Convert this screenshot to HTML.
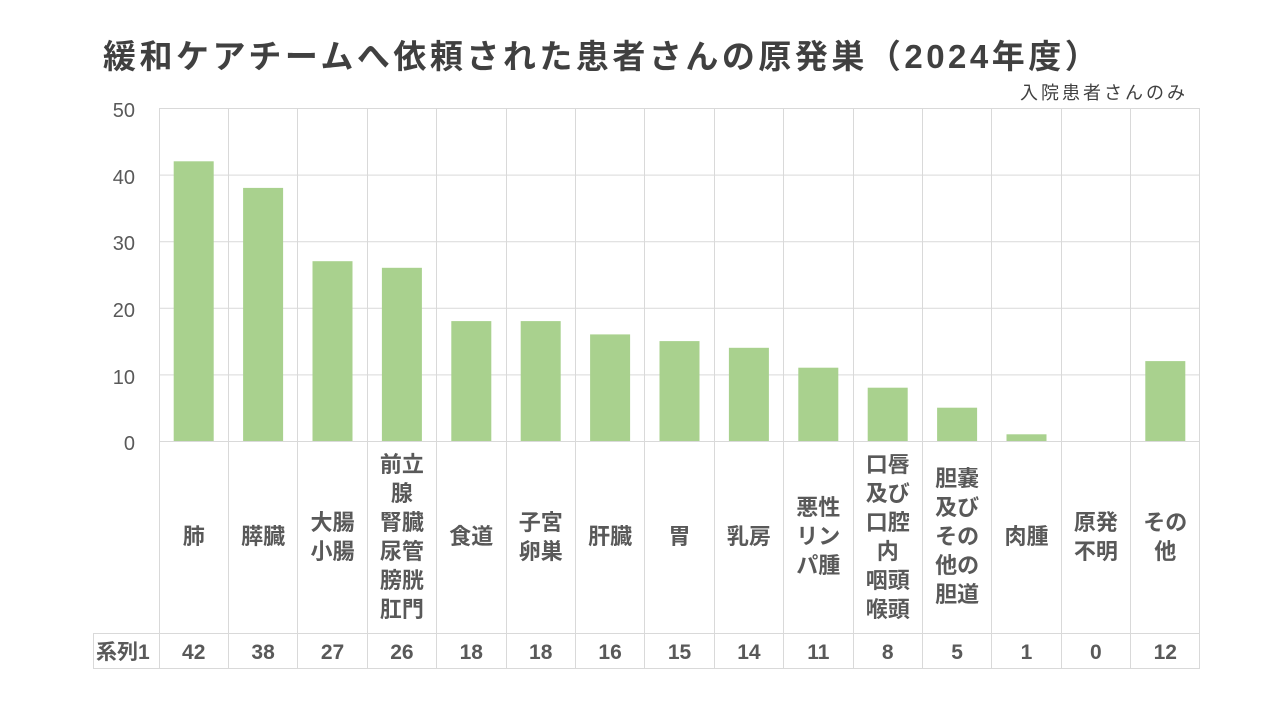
<!DOCTYPE html>
<html><head><meta charset="utf-8"><style>
body{margin:0;background:#fff;}
svg text{font-family:"Liberation Sans","Noto Sans CJK JP",sans-serif;}
</style></head><body>
<svg width="1280" height="720" xmlns="http://www.w3.org/2000/svg">
<rect width="1280" height="720" fill="#fff"/>
<text x="103" y="68" font-size="33" font-weight="bold" fill="#404040" letter-spacing="3.5">緩和ケアチームへ依頼された患者さんの原発巣（2024年度）</text>
<text x="1188" y="99" font-size="18" fill="#404040" text-anchor="end" letter-spacing="3">入院患者さんのみ</text>
<g stroke="#d9d9d9" stroke-width="1">
<line x1="159" y1="108.5" x2="1200" y2="108.5"/>
<line x1="159" y1="175.1" x2="1200" y2="175.1"/>
<line x1="159" y1="241.7" x2="1200" y2="241.7"/>
<line x1="159" y1="308.3" x2="1200" y2="308.3"/>
<line x1="159" y1="374.9" x2="1200" y2="374.9"/>
<line x1="159" y1="441.5" x2="1200" y2="441.5"/>
<line x1="93" y1="633.5" x2="1200" y2="633.5"/>
<line x1="93" y1="668.5" x2="1200" y2="668.5"/>
<line x1="93.5" y1="633" x2="93.5" y2="668"/>
<line x1="159.5" y1="108" x2="159.5" y2="668"/>
<line x1="228.5" y1="108" x2="228.5" y2="668"/>
<line x1="297.5" y1="108" x2="297.5" y2="668"/>
<line x1="367.5" y1="108" x2="367.5" y2="668"/>
<line x1="436.5" y1="108" x2="436.5" y2="668"/>
<line x1="506.5" y1="108" x2="506.5" y2="668"/>
<line x1="575.5" y1="108" x2="575.5" y2="668"/>
<line x1="644.5" y1="108" x2="644.5" y2="668"/>
<line x1="714.5" y1="108" x2="714.5" y2="668"/>
<line x1="783.5" y1="108" x2="783.5" y2="668"/>
<line x1="853.5" y1="108" x2="853.5" y2="668"/>
<line x1="922.5" y1="108" x2="922.5" y2="668"/>
<line x1="991.5" y1="108" x2="991.5" y2="668"/>
<line x1="1061.5" y1="108" x2="1061.5" y2="668"/>
<line x1="1130.5" y1="108" x2="1130.5" y2="668"/>
<line x1="1199.5" y1="108" x2="1199.5" y2="668"/>
</g>
<g font-size="20" fill="#595959" text-anchor="end">
<text x="135" y="117">50</text><text x="135" y="184">40</text><text x="135" y="250">30</text>
<text x="135" y="317">20</text><text x="135" y="384">10</text><text x="135" y="450">0</text>
</g>
<g fill="#a9d18e">
<rect x="173.7" y="161.3" width="40" height="279.7"/>
<rect x="243.1" y="187.9" width="40" height="253.1"/>
<rect x="312.5" y="261.2" width="40" height="179.8"/>
<rect x="381.9" y="267.8" width="40" height="173.2"/>
<rect x="451.3" y="321.1" width="40" height="119.9"/>
<rect x="520.7" y="321.1" width="40" height="119.9"/>
<rect x="590.1" y="334.4" width="40" height="106.6"/>
<rect x="659.5" y="341.1" width="40" height="99.9"/>
<rect x="728.9" y="347.8" width="40" height="93.2"/>
<rect x="798.3" y="367.7" width="40" height="73.3"/>
<rect x="867.7" y="387.7" width="40" height="53.3"/>
<rect x="937.1" y="407.7" width="40" height="33.3"/>
<rect x="1006.5" y="434.3" width="40" height="6.7"/>
<rect x="1145.3" y="361.1" width="40" height="79.9"/>
</g>
<g font-size="22" font-weight="bold" fill="#595959" text-anchor="middle">
<text x="193.7" y="544">肺</text>
<text x="263.1" y="544">膵臓</text>
<text x="332.5" y="530">大腸</text><text x="332.5" y="559">小腸</text>
<text x="401.9" y="472">前立</text><text x="401.9" y="501">腺</text><text x="401.9" y="530">腎臓</text><text x="401.9" y="559">尿管</text><text x="401.9" y="588">膀胱</text><text x="401.9" y="617">肛門</text>
<text x="471.3" y="544">食道</text>
<text x="540.7" y="530">子宮</text><text x="540.7" y="559">卵巣</text>
<text x="610.1" y="544">肝臓</text>
<text x="679.5" y="544">胃</text>
<text x="748.9" y="544">乳房</text>
<text x="818.3" y="515">悪性</text><text x="818.3" y="544">リン</text><text x="818.3" y="573">パ腫</text>
<text x="887.7" y="472">口唇</text><text x="887.7" y="501">及び</text><text x="887.7" y="530">口腔</text><text x="887.7" y="559">内</text><text x="887.7" y="588">咽頭</text><text x="887.7" y="617">喉頭</text>
<text x="957.1" y="486">胆嚢</text><text x="957.1" y="515">及び</text><text x="957.1" y="544">その</text><text x="957.1" y="573">他の</text><text x="957.1" y="602">胆道</text>
<text x="1026.5" y="544">肉腫</text>
<text x="1095.9" y="530">原発</text><text x="1095.9" y="559">不明</text>
<text x="1165.3" y="530">その</text><text x="1165.3" y="559">他</text>
</g>
<g font-size="21" font-weight="bold" fill="#595959" text-anchor="middle">
<text x="193.7" y="659">42</text><text x="263.1" y="659">38</text><text x="332.5" y="659">27</text><text x="401.9" y="659">26</text><text x="471.3" y="659">18</text><text x="540.7" y="659">18</text><text x="610.1" y="659">16</text><text x="679.5" y="659">15</text><text x="748.9" y="659">14</text><text x="818.3" y="659">11</text><text x="887.7" y="659">8</text><text x="957.1" y="659">5</text><text x="1026.5" y="659">1</text><text x="1095.9" y="659">0</text><text x="1165.3" y="659">12</text>
</g>
<text x="96" y="659" font-size="21" font-weight="bold" fill="#595959">系列1</text>
</svg>
</body></html>
